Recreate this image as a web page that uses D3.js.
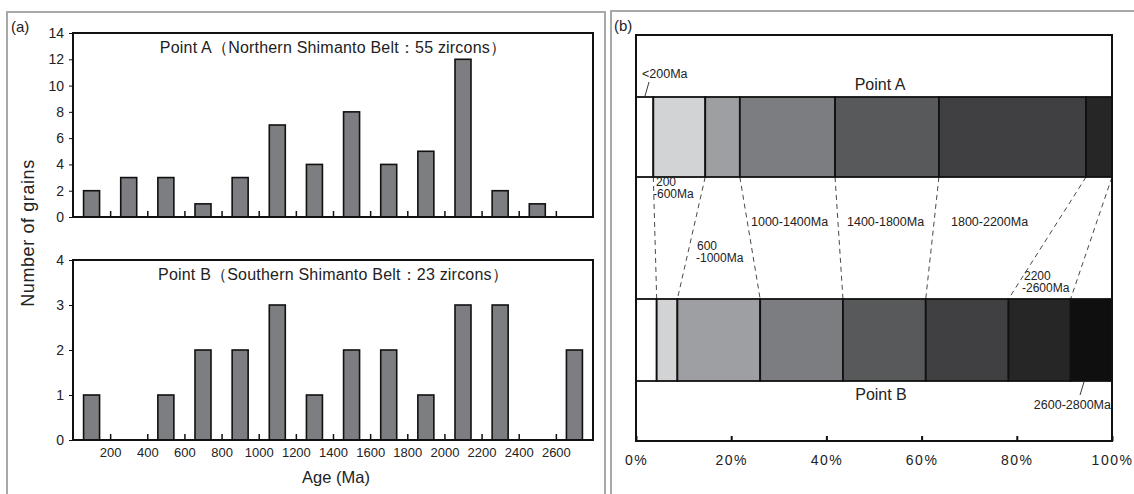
<!DOCTYPE html>
<meta charset="utf-8">
<script src="https://d3js.org/d3.v7.min.js"></script>
<style>
  body { margin: 0; background: #fff; }
  text { font-family: "Liberation Sans", Arial, sans-serif; fill: #222; }
</style>
<div id="chart"></div>
<script>
// histogram bins (centre of each 200 Ma bin)
var binCentres = [100, 300, 500, 700, 900, 1100, 1300, 1500, 1700, 1900, 2100, 2300, 2500, 2700];
var countsA = [2, 3, 3, 1, 3, 7, 4, 8, 4, 5, 12, 2, 1, 0];
var countsB = [1, 0, 1, 2, 2, 3, 1, 2, 2, 1, 3, 3, 0, 2];
var ageTicks = [200, 400, 600, 800, 1000, 1200, 1400, 1600, 1800, 2000, 2200, 2400, 2600];
var yTicksA = [0, 2, 4, 6, 8, 10, 12, 14];
var yTicksB = [0, 1, 2, 3, 4];

// age groups for panel (b)
var groups = ["<200Ma", "200-600Ma", "600-1000Ma", "1000-1400Ma", "1400-1800Ma", "1800-2200Ma", "2200-2600Ma", "2600-2800Ma"];
var groupA = [2, 6, 4, 11, 12, 17, 3, 0];
var groupB = [1, 1, 4, 4, 4, 4, 3, 2];
var groupColors = ["#ffffff", "#d2d3d5", "#9e9fa2", "#7c7d80", "#58595b", "#404042", "#262627", "#0f0f0f"];
var pctTicks = [0, 20, 40, 60, 80, 100];

var W = 1134, H = 494;
var svg = d3.select("#chart").append("svg")
  .attr("width", W).attr("height", H);

// outer panel frames
svg.append("path")
  .attr("d", "M7,494 V12 H605 V494")
  .attr("fill", "none").attr("stroke", "#a8a8a8").attr("stroke-width", 2);
svg.append("path")
  .attr("d", "M611,494 V11 H1134")
  .attr("fill", "none").attr("stroke", "#a8a8a8").attr("stroke-width", 2);

svg.append("text").attr("x", 11).attr("y", 32).style("font-size", "15px").text("(a)");
svg.append("text").attr("x", 614).attr("y", 31).style("font-size", "15px").text("(b)");

// ---------- panel (a) ----------
var x = d3.scaleLinear().domain([0, 2800]).range([73, 593]);
var barW = 16;

function histogram(counts, yMax, top, bottom, yTicks, title, showX) {
  var y = d3.scaleLinear().domain([0, yMax]).range([bottom, top]);
  var g = svg.append("g");

  var bins = counts.map(function(c, i) { return {age: binCentres[i], n: c}; })
    .filter(function(d) { return d.n > 0; });

  g.selectAll("rect.bar")
    .data(bins)
    .enter().append("rect")
      .attr("class", "bar")
      .attr("x", function(d) { return x(d.age) - barW / 2; })
      .attr("y", function(d) { return y(d.n); })
      .attr("width", barW)
      .attr("height", function(d) { return y(0) - y(d.n); })
      .attr("fill", "#7d7e81")
      .attr("stroke", "#111")
      .attr("stroke-width", 1.6);

  // inner ticks at bin edges
  g.append("g")
    .attr("transform", "translate(0," + bottom + ")")
    .call(d3.axisBottom(x).tickValues(ageTicks).tickSizeInner(-6).tickSizeOuter(0)
      .tickFormat(showX ? d3.format("d") : ""))
    .call(function(a) {
      a.select(".domain").remove();
      a.selectAll("line").attr("stroke", "#111").attr("stroke-width", 1.5);
      a.selectAll("text").attr("y", 8).style("font-size", "13px").style("fill", "#222");
    });

  g.append("g")
    .attr("transform", "translate(73,0)")
    .call(d3.axisLeft(y).tickValues(yTicks).tickSize(4).tickFormat(d3.format("d")))
    .call(function(a) {
      a.select(".domain").remove();
      a.selectAll("line").attr("stroke", "#111");
      a.selectAll("text").attr("x", -9).style("font-size", "14px").style("fill", "#222");
    });

  g.append("rect")
    .attr("x", 73).attr("y", top)
    .attr("width", 520).attr("height", bottom - top)
    .attr("fill", "none").attr("stroke", "#111").attr("stroke-width", 2);

  g.append("text")
    .attr("x", 333).attr("y", top + 20)
    .attr("text-anchor", "middle")
    .style("font-size", "16px")
    .style("letter-spacing", "0.2px")
    .text(title);
}

histogram(countsA, 14, 33, 217, yTicksA, "Point A（Northern Shimanto Belt：55 zircons）", false);
histogram(countsB, 4, 260, 440, yTicksB, "Point B（Southern Shimanto Belt：23 zircons）", true);

svg.append("text")
  .attr("x", 336).attr("y", 483)
  .attr("text-anchor", "middle")
  .style("font-size", "16.5px")
  .text("Age (Ma)");

svg.append("text")
  .attr("transform", "translate(34,233) rotate(-90)")
  .attr("text-anchor", "middle")
  .style("font-size", "18px")
  .style("letter-spacing", "0.6px")
  .text("Number of grains");

// ---------- panel (b) ----------
var px = d3.scaleLinear().domain([0, 100]).range([636, 1112]);
var bTop = 35, bBottom = 441;
var barA = {y0: 97, y1: 177}, barB = {y0: 299, y1: 381};

function cumulative(counts) {
  var total = d3.sum(counts), acc = 0;
  return counts.map(function(c) {
    var s = acc; acc += c;
    return {start: s / total * 100, end: acc / total * 100};
  });
}
var segA = cumulative(groupA), segB = cumulative(groupB);

// dashed connectors between matching group boundaries
var gb = svg.append("g");
for (var i = 0; i < 7; i++) {
  gb.append("line")
    .attr("x1", px(segA[i].end)).attr("y1", barA.y1)
    .attr("x2", px(segB[i].end)).attr("y2", barB.y0)
    .attr("stroke", "#333").attr("stroke-width", 0.9)
    .attr("stroke-dasharray", "5,4");
}

function stackBar(seg, b) {
  seg.forEach(function(s, i) {
    if (s.end - s.start <= 0) return;
    gb.append("rect")
      .attr("x", px(s.start)).attr("y", b.y0)
      .attr("width", px(s.end) - px(s.start))
      .attr("height", b.y1 - b.y0)
      .attr("fill", groupColors[i])
      .attr("stroke", "#111").attr("stroke-width", 1.8);
  });
}
stackBar(segA, barA);
stackBar(segB, barB);

gb.append("g")
  .attr("transform", "translate(0," + bBottom + ")")
  .call(d3.axisBottom(px).tickValues(pctTicks).tickSizeInner(-5).tickSizeOuter(0)
    .tickFormat(function(d) { return d + "%"; }))
  .call(function(a) {
    a.select(".domain").remove();
    a.selectAll("line").attr("stroke", "#111").attr("stroke-width", 2);
    a.selectAll("text").attr("y", 14).style("font-size", "14px")
      .style("letter-spacing", "1.5px").style("fill", "#222");
  });

gb.append("rect")
  .attr("x", 636).attr("y", bTop)
  .attr("width", 476).attr("height", bBottom - bTop)
  .attr("fill", "none").attr("stroke", "#111").attr("stroke-width", 2);

gb.append("text").attr("x", 880).attr("y", 90).attr("text-anchor", "middle")
  .style("font-size", "16px").text("Point A");
gb.append("text").attr("x", 881).attr("y", 400).attr("text-anchor", "middle")
  .style("font-size", "16px").text("Point B");

// group labels
function lbl(txt, xx, yy, anchor, size) {
  gb.append("text").attr("x", xx).attr("y", yy)
    .attr("text-anchor", anchor || "start")
    .style("font-size", size || "12.5px").text(txt);
}
lbl(groups[0], 642, 78);
gb.append("line").attr("x1", 649).attr("y1", 82).attr("x2", 645).attr("y2", 96)
  .attr("stroke", "#222").attr("stroke-width", 0.9);
// two-line labels
lbl("200", 656, 186, null, "12px");
lbl("-600Ma", 653, 198, null, "12px");
lbl("600", 697, 250, null, "12px");
lbl("-1000Ma", 696, 262, null, "12px");
lbl(groups[3], 751, 226);
lbl(groups[4], 847, 226);
lbl(groups[5], 951, 226);
lbl("2200", 1024, 280, null, "12px");
lbl("-2600Ma", 1022, 292, null, "12px");
lbl(groups[7], 1111, 409, "end");
gb.append("line").attr("x1", 1084).attr("y1", 382).attr("x2", 1080).attr("y2", 395)
  .attr("stroke", "#222").attr("stroke-width", 0.9);
</script>
